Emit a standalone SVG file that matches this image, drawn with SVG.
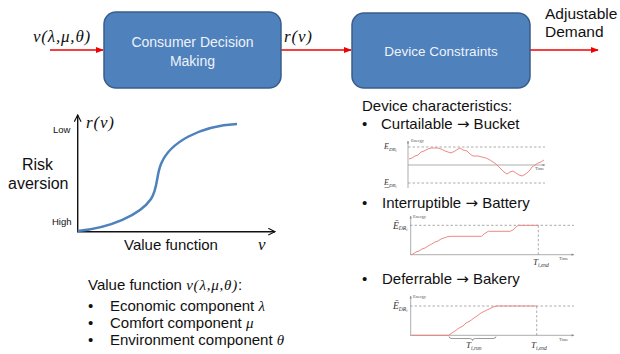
<svg xmlns="http://www.w3.org/2000/svg" width="620" height="354" viewBox="0 0 620 354">
<style>
.box{fill:#4F81BD;stroke:#385D8A;stroke-width:1.5}
.bt{font-family:"Liberation Sans",Arial,sans-serif;font-size:14px;fill:#EEF2F9;text-anchor:middle}
.t{font-family:"Liberation Sans",Arial,sans-serif;font-size:15px;fill:#111}
.ar{font-family:"DejaVu Sans",sans-serif}
.m{font-family:"Liberation Serif","DejaVu Serif",serif;font-style:italic;fill:#111;letter-spacing:0.8px}
.red{stroke:#F00000;stroke-width:1.6;fill:none}
.ax{stroke:#111;stroke-width:1.4;fill:none}
.sax{stroke:#8a8a8a;stroke-width:0.7;fill:none}
.dash{stroke:#8a8a8a;stroke-width:0.7;stroke-dasharray:2.5,2;fill:none}
.pc{stroke:#EC7C7C;stroke-width:0.9;fill:none}
.tiny{font-family:"Liberation Serif",serif;font-size:4.5px;fill:#555}
.sl{font-family:"Liberation Serif",serif;font-style:italic;fill:#333}
</style>
<defs>
<marker id="ra" viewBox="0 0 10 10" refX="9" refY="5" markerWidth="5" markerHeight="5" orient="auto" markerUnits="strokeWidth"><path d="M0,1 L10,5 L0,9 z" fill="#F00000"/></marker>
<marker id="ka" viewBox="0 0 10 10" refX="9" refY="5" markerWidth="6" markerHeight="6" orient="auto" markerUnits="strokeWidth"><path d="M1,1 L9,5 L1,9" fill="none" stroke="#111" stroke-width="1.4"/></marker>
<marker id="ga" viewBox="0 0 10 10" refX="9" refY="5" markerWidth="4" markerHeight="4" orient="auto" markerUnits="strokeWidth"><path d="M0,1 L10,5 L0,9 z" fill="#8a8a8a"/></marker>
</defs>

<g id="connectors">
<line class="red" x1="50" y1="50" x2="103" y2="50" marker-end="url(#ra)"/>
<line class="red" x1="281" y1="50" x2="351" y2="50" marker-end="url(#ra)"/>
<line class="red" x1="530" y1="50" x2="598" y2="50" marker-end="url(#ra)"/>
</g>

<g id="input-label"><text class="m" x="33" y="42" style="font-size:17px">v(λ,μ,θ)</text></g>
<g id="rv-label"><text class="m" x="284" y="42" style="font-size:17px">r(v)</text></g>

<g id="consumer-decision">
<rect class="box" x="104" y="12" width="177" height="76" rx="12"/>
<text class="bt" x="192.5" y="47">Consumer Decision</text>
<text class="bt" x="192.5" y="66">Making</text>
</g>

<g id="device-constraints">
<rect class="box" x="352" y="13" width="178" height="75" rx="12"/>
<text class="bt" x="441" y="56" style="font-size:13.5px">Device Constraints</text>
</g>

<g id="adjustable-demand">
<text class="t" x="545" y="19" style="font-size:15.5px">Adjustable</text>
<text class="t" x="545" y="37" style="font-size:15.5px">Demand</text>
</g>

<g id="risk-chart">
<line class="ax" x1="77.7" y1="232" x2="77.7" y2="115" marker-end="url(#ka)"/>
<line class="ax" x1="77" y1="231.7" x2="275" y2="231.7" marker-end="url(#ka)"/>
<path d="M77.7,231 C110,228 140,215 151,199 C158,188 156,176 161,164 C170,142 200,126 237,124" fill="none" stroke="#4F81BD" stroke-width="2.5"/>
<text class="t" x="53" y="133" style="font-size:9.5px">Low</text>
<text class="t" x="52" y="225" style="font-size:9.5px">High</text>
<text class="m" x="86" y="128" style="font-size:17px">r(v)</text>
<text class="t" x="22" y="170" style="font-size:16px">Risk</text>
<text class="t" x="8" y="189" style="font-size:16px">aversion</text>
<text class="t" x="124" y="250">Value function</text>
<text class="m" x="258" y="250" style="font-size:17px">v</text>
</g>

<g id="value-function-list">
<text class="t" x="88" y="290">Value function <tspan class="m">v(λ,μ,θ)</tspan>:</text>
<text class="t" x="88" y="311">•</text>
<text class="t" x="110" y="311">Economic component <tspan class="m">λ</tspan></text>
<text class="t" x="88" y="328">•</text>
<text class="t" x="110" y="328">Comfort component <tspan class="m">μ</tspan></text>
<text class="t" x="88" y="345">•</text>
<text class="t" x="110" y="345">Environment component <tspan class="m">θ</tspan></text>
</g>

<g id="device-characteristics">
<text class="t" x="362" y="111">Device characteristics:</text>
<text class="t" x="362" y="129">•</text>
<text class="t" x="381" y="129">Curtailable <tspan class="ar">→</tspan> Bucket</text>
<text class="t" x="362" y="208">•</text>
<text class="t" x="382" y="208">Interruptible <tspan class="ar">→</tspan> Battery</text>
<text class="t" x="362" y="284">•</text>
<text class="t" x="382" y="284">Deferrable <tspan class="ar">→</tspan> Bakery</text>
</g>

<g id="bucket-chart">
<line class="sax" x1="408" y1="188" x2="408" y2="141" marker-end="url(#ga)"/>
<line class="sax" x1="408" y1="165" x2="545" y2="165" marker-end="url(#ga)"/>
<line class="dash" x1="408" y1="147" x2="545" y2="147"/>
<line class="dash" x1="408" y1="183" x2="545" y2="183"/>
<polyline class="pc" points="409,159 412,158 415,156 418,155 421,152 424,151 428,149 431,148 438,148 441,149 445,151 448,152 451,153 455,151 458,149 460,148 463,150 467,151 470,154 473,156 478,156 482,157 486,158 490,160 493,162 496,164 499,167 502,170 504,172 507,174 510,172 513,171 516,173 519,175 522,176 524,175 527,173 530,170 532,167 535,165 538,163 541,162 544,160"/>
<text class="tiny" x="411" y="142">Energy</text>
<text class="tiny" x="535" y="170">Time</text>
<text class="sl" x="384" y="149" font-size="8">E<tspan font-size="5" dy="1.5">DR</tspan><tspan font-size="3.5" dy="1">i</tspan></text>
<text class="sl" x="384" y="185" font-size="8">E<tspan font-size="5" dy="1.5">DR</tspan><tspan font-size="3.5" dy="1">i</tspan></text>
<line x1="384.5" y1="187.5" x2="389.5" y2="187.5" stroke="#333" stroke-width="0.5"/>
</g>

<g id="battery-chart">
<line class="sax" x1="410.7" y1="255" x2="410.7" y2="216" marker-end="url(#ga)"/>
<line class="sax" x1="410" y1="254.7" x2="574" y2="254.7" marker-end="url(#ga)"/>
<line class="dash" x1="410" y1="225.3" x2="574" y2="225.3"/>
<line class="dash" x1="538.3" y1="225.3" x2="538.3" y2="254.7"/>
<polyline class="pc" points="411.7,254.7 416,252 419,251 422,249 425,248 428,246 431.7,244 435,242 438,241 441,239 444,238 446.7,237 450,236.3 481.7,236.3 484,234 488.3,231.3 510,231.3 513,230 516,227 518.3,225.3 538.3,225.3"/>
<text class="tiny" x="413" y="218">Energy</text>
<text class="tiny" x="559" y="260">Time</text>
<text class="sl" x="393" y="228.5" font-size="9.5">Ē<tspan font-size="5.5" dy="1.5">DR</tspan><tspan font-size="4" dy="1">i</tspan></text>
<text class="sl" x="533" y="265" font-size="9">T<tspan font-size="5.5" dy="1.5">i,end</tspan></text>
</g>

<g id="bakery-chart">
<line class="sax" x1="410.7" y1="335.5" x2="410.7" y2="296" marker-end="url(#ga)"/>
<line class="sax" x1="410" y1="335.3" x2="574" y2="335.3" marker-end="url(#ga)"/>
<line class="dash" x1="410" y1="306" x2="574" y2="306"/>
<line class="dash" x1="536.7" y1="306" x2="536.7" y2="335.3"/>
<polyline class="pc" points="411.7,335.3 448.3,335.3 452,333 455,331 459,328 463,326 466,323 470,321 474,318 477,316 481,313 485,311 489,309 493,307 496.7,306 536.7,306"/>
<path d="M449,336.5 Q449,338.5 452,338.5 L469.5,338.5 Q472.5,338.5 472.5,340.5 Q472.5,338.5 475.5,338.5 L493,338.5 Q496,338.5 496,336.5" fill="none" stroke="#555" stroke-width="0.6"/>
<text class="tiny" x="413" y="298">Energy</text>
<text class="tiny" x="559" y="341">Time</text>
<text class="sl" x="393" y="309" font-size="9.5">Ē<tspan font-size="5.5" dy="1.5">DR</tspan><tspan font-size="4" dy="1">i</tspan></text>
<text class="sl" x="466" y="348" font-size="9">T<tspan font-size="5.5" dy="1.5">i,run</tspan></text>
<text class="sl" x="531" y="348" font-size="9">T<tspan font-size="5.5" dy="1.5">i,end</tspan></text>
</g>
</svg>
